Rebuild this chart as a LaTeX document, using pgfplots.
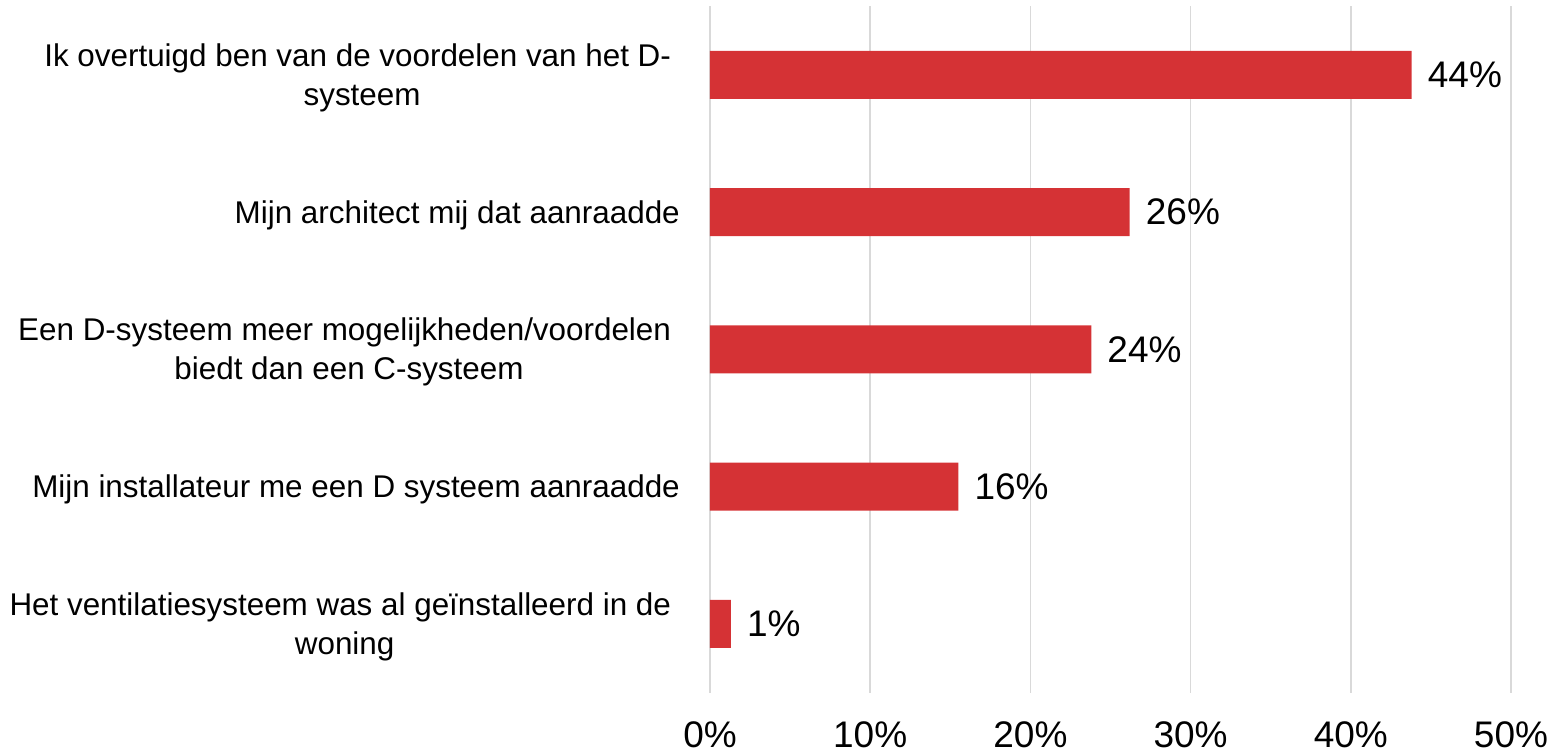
\documentclass[border=0pt]{standalone}
\usepackage{fontspec}
\setmainfont{Liberation Sans}
\usepackage{pgfplots}
\pgfplotsset{compat=1.18}
\definecolor{barred}{RGB}{213,50,53}
\definecolor{gridgray}{RGB}{217,217,217}
\begin{document}
\begin{tikzpicture}
\begin{axis}[
  xbar,
  scale only axis,
  width=801pt, height=686.5pt,
  xmin=0, xmax=50, ymin=-0.5, ymax=4.5,
  y dir=reverse,
  axis line style={draw=none},
  major tick length=0pt,
  xmajorgrids,
  grid style={draw=gridgray, line width=1.5pt},
  /pgf/number format/assume math mode=true,
  xtick={0,10,20,30,40,50},
  xticklabel={\pgfmathprintnumber{\tick}\%},
  xticklabel style={font=\fontsize{37}{44}\selectfont, anchor=base, inner sep=0pt, yshift=-55pt},
  ytick={0,1,2,3,4},
  yticklabels={
    {Ik overtuigd ben van de voordelen van het D-\kern0.28em\\systeem},
    {Mijn architect mij dat aanraadde},
    {Een D-systeem meer mogelijkheden/voordelen\kern0.28em\\biedt dan een C-systeem},
    {Mijn installateur me een D systeem aanraadde},
    {Het ventilatiesysteem was al geïnstalleerd in de\kern0.28em\\woning}},
  yticklabel style={font=\fontsize{31.4}{39}\selectfont, align=center, anchor=east, inner sep=0pt, xshift=-30pt, yshift=-3pt},
  bar width=48pt,
  nodes near coords,
  point meta=explicit symbolic,
  nodes near coords style={font=\fontsize{37}{44}\selectfont, anchor=west, inner sep=0pt, xshift=16pt, text=black},
]
\addplot[fill=barred, draw=none] table[x=x, y=y, meta=lab] {
x y lab
43.8 0 44\%
26.2 1 26\%
23.8 2 24\%
15.5 3 16\%
1.3 4 1\%
};
\end{axis}
\pgfresetboundingbox
\path[use as bounding box] ([xshift=-710pt,yshift=-60.4pt]current axis.south west) rectangle ++(1556pt,753pt);
\end{tikzpicture}
\end{document}
